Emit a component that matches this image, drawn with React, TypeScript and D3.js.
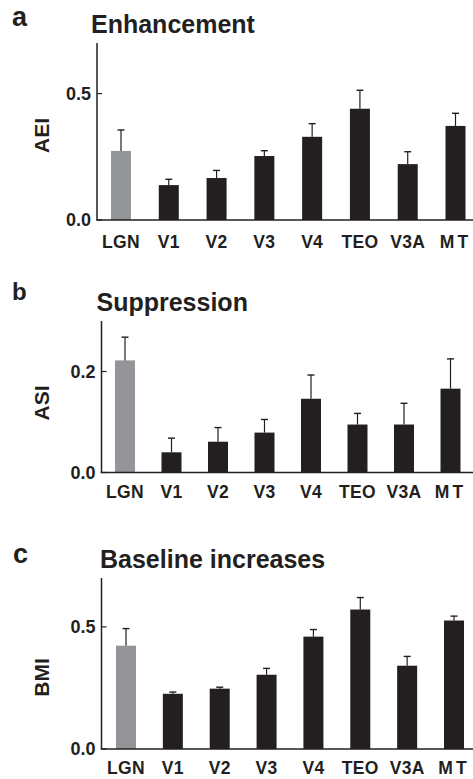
import React from "react";
import { scaleLinear, scalePoint } from "d3";

const categories = ["LGN", "V1", "V2", "V3", "V4", "TEO", "V3A", "MT"];

// a: enhancement (AEI)
const aeiValues = [0.273, 0.138, 0.166, 0.253, 0.329, 0.44, 0.221, 0.372];
const aeiErrors = [0.083, 0.023, 0.03, 0.021, 0.052, 0.073, 0.049, 0.05];
const aeiTicks = [0.0, 0.5];

// b: suppression (ASI)
const asiValues = [0.222, 0.04, 0.061, 0.079, 0.146, 0.095, 0.095, 0.166];
const asiErrors = [0.046, 0.028, 0.028, 0.026, 0.047, 0.022, 0.042, 0.059];
const asiTicks = [0.0, 0.2];

// c: baseline increases (BMI)
const bmiValues = [0.423, 0.226, 0.247, 0.304, 0.46, 0.571, 0.341, 0.526];
const bmiErrors = [0.07, 0.007, 0.006, 0.026, 0.029, 0.049, 0.038, 0.018];
const bmiTicks = [0.0, 0.5];

const W = 473;
const H = 779;
const DARK = "#231f20";
const GREY = "#939598";
const FONT = "'Liberation Sans', Arial, Helvetica, sans-serif";

const panels = [
  {
    letter: "a", title: "Enhancement", ylabel: "AEI",
    values: aeiValues, errors: aeiErrors, ticks: aeiTicks, max: 0.7,
    axisX: 97, y0: 220, yTop: 43, x0: 121, x1: 455.5,
    letterY: 26, letterX: 12, letterSize: 27, titleX: 91, titleY: 32.5, labelY: 135.5, catY: 248,
  },
  {
    letter: "b", title: "Suppression", ylabel: "ASI",
    values: asiValues, errors: asiErrors, ticks: asiTicks, max: 0.3,
    axisX: 101.5, y0: 472.5, yTop: 321, x0: 125, x1: 450.5,
    letterY: 300, letterX: 12, letterSize: 24, titleX: 96.5, titleY: 311, labelY: 403, catY: 498,
  },
  {
    letter: "c", title: "Baseline increases", ylabel: "BMI",
    values: bmiValues, errors: bmiErrors, ticks: bmiTicks, max: 0.7,
    axisX: 101.5, y0: 749, yTop: 578, x0: 126, x1: 454,
    letterY: 563, letterX: 13, letterSize: 27, titleX: 100, titleY: 567.5, labelY: 677.5, catY: 774,
  },
];

const Panel = ({ p }: { p: (typeof panels)[number] }) => {
  const y = scaleLinear().domain([0, p.max]).range([p.y0, p.yTop]);
  const x = scalePoint<string>().domain(categories).range([p.x0, p.x1]);
  const bw = 20;

  return (
    <g fontFamily={FONT} fontWeight="bold" fill={DARK}>
      <text x={p.letterX} y={p.letterY} fontSize={p.letterSize}>{p.letter}</text>
      <text x={p.titleX} y={p.titleY} fontSize={25}>{p.title}</text>
      <text
        transform={`translate(49,${p.labelY}) rotate(-90)`}
        textAnchor="middle"
        fontSize={21}
      >
        {p.ylabel}
      </text>

      {p.values.map((v, i) => {
        const cx = x(categories[i]) as number;
        const top = y(v);
        const et = y(v + p.errors[i]);
        const col = i === 0 ? GREY : DARK;
        return (
          <g key={categories[i]}>
            <rect x={cx - bw / 2} y={top} width={bw} height={p.y0 - top} fill={col} />
            <line x1={cx} x2={cx} y1={top} y2={et} stroke={DARK} strokeWidth={1.2} />
            <line x1={cx - 3.5} x2={cx + 3.5} y1={et} y2={et} stroke={DARK} strokeWidth={1.4} />
          </g>
        );
      })}

      <line x1={p.axisX} x2={p.axisX} y1={p.yTop} y2={p.y0} stroke={DARK} strokeWidth={1.5} />
      <line x1={p.axisX - 0.75} x2={W} y1={p.y0} y2={p.y0} stroke={DARK} strokeWidth={1.5} />

      {p.ticks.map((t) => (
        <g key={t}>
          <line x1={p.axisX} x2={p.axisX + 5} y1={y(t)} y2={y(t)} stroke={DARK} strokeWidth={1.2} />
          <text x={p.axisX - 6} y={y(t) + 6} textAnchor="end" fontSize={18}>
            {t.toFixed(1)}
          </text>
        </g>
      ))}

      {categories.map((c) => (
        <text key={c} x={x(c) as number} y={p.catY} textAnchor="middle" fontSize={17.5}
          letterSpacing={c === "MT" ? 3 : 0.3}>
          {c}
        </text>
      ))}
    </g>
  );
};

const App = () => (
  <div style={{ position: "absolute", left: 0, top: 0 }}>
    <svg width={W} height={H} style={{ display: "block", background: "#fff" }}>
      {panels.map((p) => (
        <Panel key={p.letter} p={p} />
      ))}
    </svg>
  </div>
);

export default App;
